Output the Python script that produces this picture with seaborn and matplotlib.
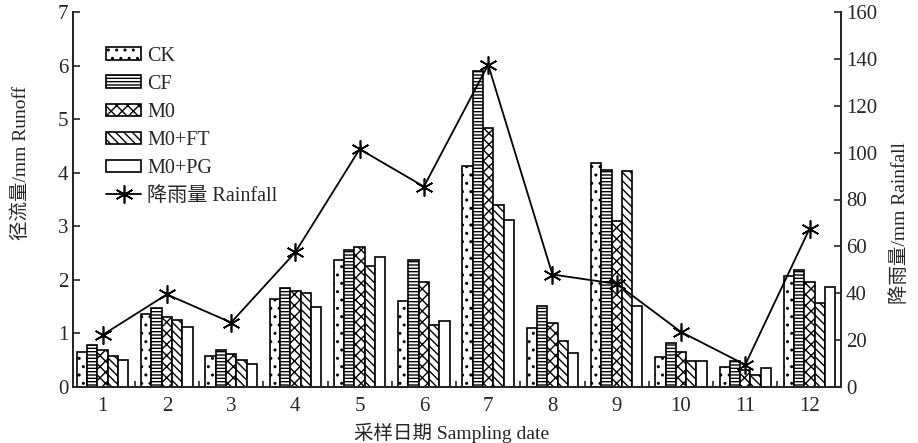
import matplotlib
matplotlib.use("Agg")
import matplotlib.pyplot as plt
import matplotlib.patches as mpatches
from matplotlib.lines import Line2D
import numpy as np
import pandas as pd
import seaborn as sns

# sampling dates and treatments
dates = ['1', '2', '3', '4', '5', '6', '7', '8', '9', '10', '11', '12']
treatments = ['CK', 'CF', 'M0', 'M0+FT', 'M0+PG']

# runoff (mm) per treatment
ck = [0.66, 1.37, 0.58, 1.65, 2.37, 1.61, 4.13, 1.11, 4.18, 0.56, 0.38, 2.08]
cf = [0.78, 1.48, 0.69, 1.85, 2.55, 2.37, 5.90, 1.51, 4.05, 0.82, 0.49, 2.19]
m0 = [0.70, 1.31, 0.62, 1.80, 2.62, 1.96, 4.83, 1.20, 3.09, 0.65, 0.32, 1.96]
m0_ft = [0.57, 1.25, 0.51, 1.75, 2.25, 1.16, 3.39, 0.86, 4.03, 0.48, 0.22, 1.57]
m0_pg = [0.51, 1.12, 0.43, 1.50, 2.43, 1.23, 3.11, 0.63, 1.51, 0.49, 0.35, 1.87]

# rainfall (mm)
rainfall = [22.2, 39.5, 27.5, 57.5, 101.5, 85.5, 137.5, 48.0, 44.0, 23.5, 9.5, 67.5]

hatches = ['..', '-----', 'xxx', '\\\\\\\\', '']

sns.set_style('ticks')
plt.rcParams['font.family'] = ['Liberation Serif', 'Noto Sans CJK SC']
plt.rcParams['hatch.linewidth'] = 1.0
plt.rcParams['axes.linewidth'] = 1.4

df = pd.DataFrame({
    'date': dates * len(treatments),
    'trt': np.repeat(treatments, len(dates)),
    'runoff': ck + cf + m0 + m0_ft + m0_pg,
})

fig = plt.figure(figsize=(9.18, 4.43), dpi=100)
ax = fig.add_axes([73 / 918, 1 - 387 / 443, (841 - 73) / 918, (387 - 12) / 443])

sns.barplot(data=df, x='date', y='runoff', hue='trt', order=dates,
            hue_order=treatments, palette=['white'] * 5, edgecolor='black',
            linewidth=1.2, width=0.8, gap=0, legend=False, ax=ax)

for cont, h in zip(ax.containers, hatches):
    for bar in cont:
        bar.set_hatch(h)

ax.set_ylim(0, 7)
ax.set_yticks(range(0, 8))
ax.set_xticks(np.arange(len(dates)) + 0.5, minor=True)
ax.tick_params(axis='x', which='major', length=0, pad=7, labelsize=15)
ax.tick_params(axis='x', which='minor', direction='in', length=4, width=1.2)
ax.tick_params(axis='y', direction='in', length=5, width=1.2, labelsize=15)
ax.set_xlabel('采样日期 Sampling date', fontsize=14)
ax.set_ylabel('径流量/mm Runoff', fontsize=14)
ax.xaxis.set_label_coords(0.493, -0.095)
ax.yaxis.set_label_coords(-0.056, 0.597)
ax.spines['top'].set_visible(False)

ax2 = ax.twinx()
sns.lineplot(x=np.arange(len(dates)), y=rainfall, ax=ax2, color='black',
             linewidth=1.3, marker=(6, 2, 0), markersize=13,
             markeredgecolor='black', markeredgewidth=1.2)
ax2.set_ylim(0, 160)
ax2.set_yticks(range(0, 161, 20))
ax2.tick_params(axis='y', direction='in', length=5, width=1.2, labelsize=15)
ax2.set_ylabel('降雨量/mm Rainfall', fontsize=14)
ax2.yaxis.set_label_coords(1.064, 0.437)
ax2.spines['top'].set_visible(False)
ax.set_xlim(-0.46, 11.49)

handles = [mpatches.Patch(facecolor='white', edgecolor='black', linewidth=1.2, hatch=h)
           for h in hatches]
handles.append(Line2D([], [], color='black', linewidth=1.3, marker=(6, 2, 0),
                      markersize=13, markeredgewidth=1.2))
labels = treatments + ['降雨量 Rainfall']
ax2.legend(handles, labels, loc='upper left', bbox_to_anchor=(0.043, 0.907),
           frameon=False, fontsize=14.5, handlelength=1.75, handleheight=0.6,
           handletextpad=0.3, labelspacing=0.45, borderpad=0, borderaxespad=0)

fig.savefig('out.png', dpi=100)
